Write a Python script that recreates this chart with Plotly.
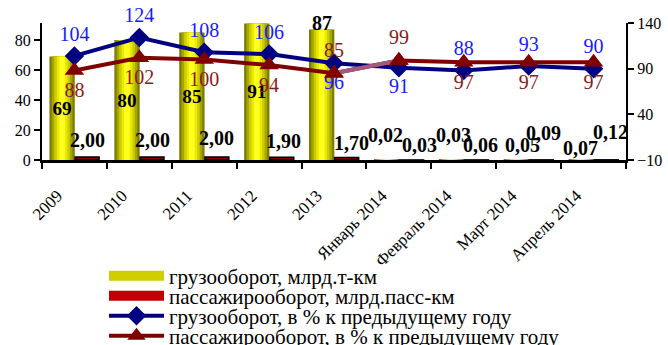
import plotly.graph_objects as go

categories = ["2009", "2010", "2011", "2012", "2013",
              "Январь 2014", "Февраль 2014", "Март 2014", "Апрель 2014"]
freight = [69, 80, 85, 91, 87, 0.02, 0.03, 0.05, 0.07]          # млрд.т-км
passenger = [2.00, 2.00, 2.00, 1.90, 1.70, 0.03, 0.06, 0.09, 0.12]  # млрд.пасс-км
freight_pct = [104, 124, 108, 106, 96, 91, 88, 93, 90]
passenger_pct = [88, 102, 100, 94, 85, 99, 97, 97, 97]

FONT = "Liberation Serif"
n_years = 5

def fmt2(v):
    return f"{v:.2f}".replace(".", ",")

fig = go.Figure()

# freight bars: stepped gradient (olive edges, bright yellow centre)
F_OFF, F_W = -0.385, 0.39
layers = [(1.0, "#7c7c00"), (0.82, "#a6a600"), (0.62, "#cccc00"),
          (0.42, "#eaea00"), (0.22, "#ffff20")]
centre = F_OFF + F_W / 2
for i, (frac, col) in enumerate(layers):
    w = F_W * frac
    fig.add_trace(go.Bar(
        x=categories, y=freight, yaxis="y",
        width=w, offset=centre - w / 2,
        marker=dict(color=col, line=dict(width=0)),
        showlegend=False, hoverinfo="skip"))

# freight labels inside the bars (first four years)
f_text = [f"{v:.0f}" if i < 4 else "" for i, v in enumerate(freight)]
f_pos = ["inside"] * 4 + ["none"] * 5
fig.add_trace(go.Bar(
    x=categories, y=freight, yaxis="y", width=F_W, offset=F_OFF,
    marker=dict(color="rgba(0,0,0,0)", line=dict(width=0)),
    text=f_text, textposition=f_pos, insidetextanchor="middle", textangle=0,
    textfont=dict(family=FONT, size=20, color="black", weight="bold"),
    cliponaxis=False, showlegend=False, hoverinfo="skip"))

# passenger bars
P_OFF, P_W = 0.01, 0.37
fig.add_trace(go.Bar(
    x=categories, y=passenger, yaxis="y", width=P_W, offset=P_OFF,
    marker=dict(color="#8b0000", line=dict(color="black", width=1.5)),
    showlegend=False, hoverinfo="skip"))

# legend swatches for the two bar series (wide rectangles as in the original)
fig.add_trace(go.Scatter(x=[None], y=[None], mode="lines",
                         line=dict(color="#cfcf00", width=10),
                         name="грузооборот, млрд.т-км", legend="legend"))
fig.add_trace(go.Scatter(x=[None], y=[None], mode="lines",
                         line=dict(color="#c00000", width=10),
                         name="пассажирооборот, млрд.пасс-км", legend="legend2"))

# lines
blue_pos = ["top center"] * 4 + ["bottom center", "bottom center"] + ["top center"] * 3
red_pos = ["bottom center"] * 4 + ["top center", "top center"] + ["bottom center"] * 3

fig.add_trace(go.Scatter(
    x=categories, y=freight_pct, yaxis="y2", mode="lines+markers+text",
    line=dict(color="#000080", width=4),
    marker=dict(symbol="diamond", size=15, color="#000080"),
    text=[str(v) for v in freight_pct], textposition=blue_pos,
    textfont=dict(family=FONT, size=20, color="#1a1aff"),
    name="грузооборот, в % к предыдущему году", legend="legend3",
    cliponaxis=False, hoverinfo="skip"))

fig.add_trace(go.Scatter(
    x=categories, y=passenger_pct, yaxis="y2", mode="lines+markers+text",
    line=dict(color="#800000", width=4),
    marker=dict(symbol="triangle-up", size=17, color="#800000"),
    text=[str(v) for v in passenger_pct], textposition=red_pos,
    textfont=dict(family=FONT, size=20, color="#8b1a1a"),
    name="пассажирооборот, в % к предыдущему году", legend="legend4",
    cliponaxis=False, hoverinfo="skip"))

# lighter transition segment 2013 -> Январь 2014
fig.add_trace(go.Scatter(
    x=categories[4:6], y=passenger_pct[4:6], yaxis="y2", mode="lines",
    line=dict(color="#a25a7c", width=4), showlegend=False, hoverinfo="skip"))
fig.add_trace(go.Scatter(
    x=categories[4:6], y=passenger_pct[4:6], yaxis="y2", mode="markers",
    marker=dict(symbol="triangle-up", size=17, color="#800000"),
    showlegend=False, hoverinfo="skip"))

# remaining bar value labels (placed like the original)
LBL = dict(family=FONT, size=20, color="black", weight="bold")
f_shift = [None] * 4 + [(-12, 6), (-13, 25), (-10, 25), (-6, 15), (-13, 12)]
p_shift = [(13, 17), (13, 17), (12, 19), (14, 16), (17, 14),
           (21, 15), (17, 15), (15, 27), (17, 28)]
ann = []
for i in range(len(categories)):
    if f_shift[i] is not None:
        txt = f"{freight[i]:.0f}" if i < n_years else fmt2(freight[i])
        ann.append(dict(x=i, y=freight[i], xref="x", yref="y", text=txt,
                        xshift=f_shift[i][0], yshift=f_shift[i][1], showarrow=False,
                        font=LBL))
    ann.append(dict(x=i, y=passenger[i], xref="x", yref="y", text=fmt2(passenger[i]),
                    xshift=p_shift[i][0], yshift=p_shift[i][1], showarrow=False,
                    font=LBL))

W, H = 668, 345
legend_rows = [276, 296, 316, 336]
def leg(row_y):
    return dict(x=104 / W, y=1 - row_y / H, xref="container", yref="container",
                xanchor="left", yanchor="middle",
                font=dict(family=FONT, size=21, color="black"),
                bgcolor="rgba(0,0,0,0)", itemwidth=55, borderwidth=0)

fig.update_layout(
    width=W, height=H, autosize=False,
    margin=dict(l=42, r=42, t=23, b=185, pad=0, autoexpand=False),
    paper_bgcolor="white", plot_bgcolor="white",
    font=dict(family=FONT, size=16, color="black"),
    barmode="overlay",
    showlegend=True,
    legend=leg(legend_rows[0]),
    legend2=leg(legend_rows[1]),
    legend3=leg(legend_rows[2]),
    legend4=leg(legend_rows[3]),
    annotations=ann,
    xaxis=dict(type="category", categoryorder="array", categoryarray=categories,
               range=[-0.5, 8.5], showline=True, linecolor="black", linewidth=3,
               ticks="outside", ticklen=6, tickwidth=2, tickcolor="black",
               tickson="boundaries", tickangle=-45, showgrid=False, automargin=False,
               ticklabelstandoff=16, ticklabelshift=-17,
               tickfont=dict(family=FONT, size=17, color="black")),
    yaxis=dict(range=[0, 91.3], tickvals=[0, 20, 40, 60, 80], showline=True,
               linecolor="black", linewidth=2, ticks="outside", ticklen=6,
               tickwidth=2, tickcolor="black", showgrid=False, zeroline=False,
               automargin=False, tickfont=dict(family=FONT, size=16, color="black")),
    yaxis2=dict(range=[-10, 140], tickvals=[-10, 40, 90, 140], overlaying="y",
                side="right", showline=True, linecolor="black", linewidth=2,
                ticks="outside", ticklen=6, tickwidth=2, tickcolor="black",
                showgrid=False, zeroline=False, automargin=False,
                tickfont=dict(family=FONT, size=16, color="black")),
)

fig.write_html("out.html", config={"displayModeBar": False},
               post_script="document.body.style.margin='0px';")
